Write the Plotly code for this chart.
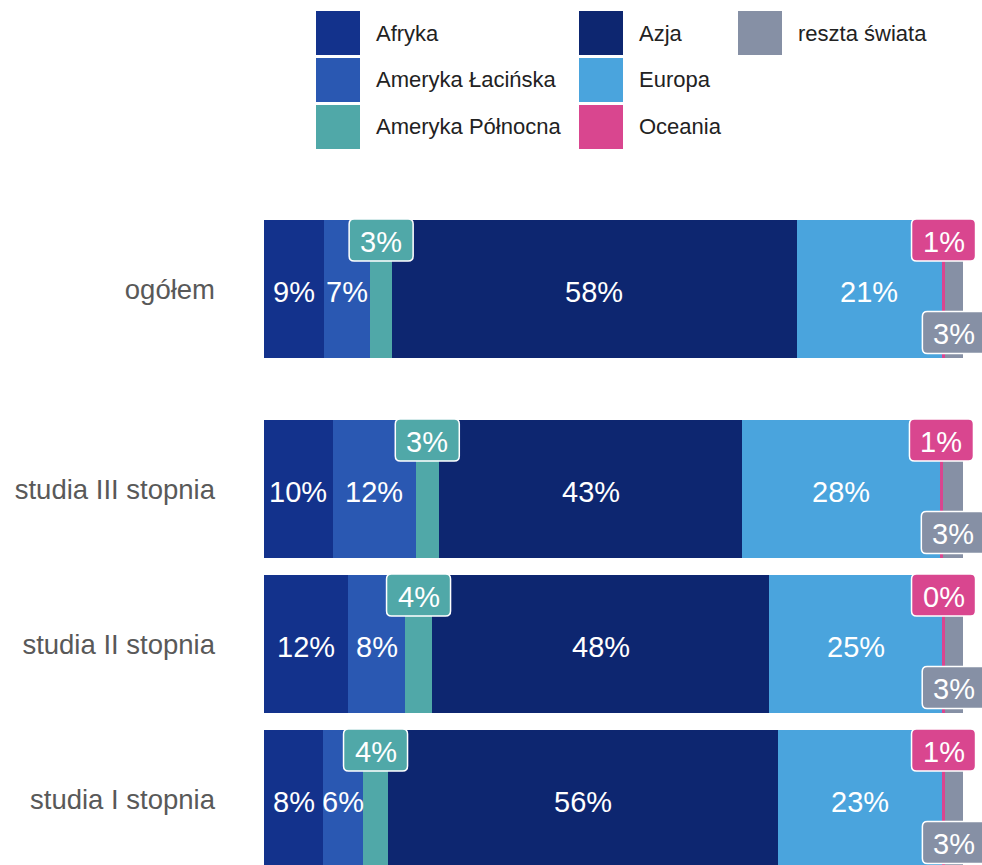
import plotly.graph_objects as go

# ---------------- data ----------------
categories = ["studia I stopnia", "studia II stopnia", "studia III stopnia", "ogółem"]
series_names = ["Afryka", "Ameryka Łacińska", "Ameryka Północna", "Azja",
                "Europa", "Oceania", "reszta świata"]
afryka = [8.45, 12.0, 9.8, 8.6]
ameryka_lacinska = [5.7, 8.2, 11.9, 6.6]
ameryka_polnocna = [3.6, 3.8, 3.3, 3.1]
azja = [55.75, 48.25, 43.4, 57.9]
europa = [23.4, 24.7, 28.2, 20.7]
oceania = [0.55, 0.45, 0.55, 0.55]
reszta_swiata = [2.55, 2.6, 2.85, 2.55]

series_values = [afryka, ameryka_lacinska, ameryka_polnocna, azja,
                 europa, oceania, reszta_swiata]

# ---------------- style ----------------
colors = ["#13328c", "#2a58b2", "#50a8a8", "#0d2670", "#4aa4dd", "#d9468f", "#8690a5"]
label_mode = [None, None, "top", None, None, "top", "bottom"]   # callout placement
y_positions = [0, 1, 2, 3.29]
bar_width = 0.89
FONT = "Liberation Sans, Arial, sans-serif"

W, H = 982, 865
ML = 264
plot_w = W - ML
px_per_pct = 699.3 / 100.0
x_max = plot_w / px_per_pct
px_per_unit = 155.0
half_bar_px = bar_width / 2.0 * px_per_unit

fig = go.Figure()
for name, vals, col in zip(series_names, series_values, colors):
    fig.add_trace(go.Bar(
        y=y_positions, x=vals, name=name, orientation="h",
        width=bar_width, marker=dict(color=col, line=dict(width=0)),
        hoverinfo="x+name", showlegend=False,
    ))

annotations = []
shapes = []
cum = [0.0] * len(categories)
for si, (vals, col, mode) in enumerate(zip(series_values, colors, label_mode)):
    for ci, v in enumerate(vals):
        xc = cum[ci] + v / 2.0
        yc = y_positions[ci]
        txt = f"{v:.0f}%"
        if mode is None:
            annotations.append(dict(
                x=xc, y=yc, xref="x", yref="y", text=txt,
                showarrow=False, yshift=-3,
                font=dict(family=FONT, size=29, color="white"),
            ))
        else:
            if mode == "top":
                cy = half_bar_px - 20
            else:
                cy = -half_bar_px + 25.5
            w2, h2, r = 32, 21, 5
            x0, x1, y0, y1 = -w2, w2, cy - h2, cy + h2
            path = (f"M {x0 + r},{y0} L {x1 - r},{y0} Q {x1},{y0} {x1},{y0 + r} "
                    f"L {x1},{y1 - r} Q {x1},{y1} {x1 - r},{y1} L {x0 + r},{y1} "
                    f"Q {x0},{y1} {x0},{y1 - r} L {x0},{y0 + r} Q {x0},{y0} {x0 + r},{y0} Z")
            shapes.append(dict(
                type="path", xref="x", yref="y", xsizemode="pixel", ysizemode="pixel",
                xanchor=xc, yanchor=yc, path=path, fillcolor=col,
                line=dict(color="white", width=1.5), layer="above",
            ))
            annotations.append(dict(
                x=xc, y=yc, xref="x", yref="y", text=txt, showarrow=False,
                yshift=cy - 2,
                font=dict(family=FONT, size=29, color="white"),
            ))
    cum = [c + v for c, v in zip(cum, vals)]

# ---------------- custom legend ----------------
def px_x(p):
    return (p - ML) / plot_w

def px_y(p):
    return 1 - p / H

col_swatch_x = [316, 579, 738]
col_text_x = [374, 637, 796]
row_top = [11, 58, 105]
sw = 44
for i, (name, col) in enumerate(zip(series_names, colors)):
    c, r = divmod(i, 3)
    sx, sy = col_swatch_x[c], row_top[r]
    shapes.append(dict(
        type="rect", xref="paper", yref="paper",
        x0=px_x(sx), x1=px_x(sx + sw), y0=px_y(sy + sw), y1=px_y(sy),
        fillcolor=col, line=dict(width=0),
    ))
    annotations.append(dict(
        x=px_x(col_text_x[c]), y=px_y(sy + sw / 2.0), xref="paper", yref="paper",
        text=name, showarrow=False, xanchor="left", yanchor="middle",
        font=dict(family=FONT, size=22, color="#222222"),
    ))

fig.update_layout(
    width=W, height=H, barmode="stack", bargap=0,
    margin=dict(l=ML, r=0, t=0, b=0, autoexpand=False),
    paper_bgcolor="white", plot_bgcolor="white",
    showlegend=False,
    xaxis=dict(range=[0, x_max], visible=False, fixedrange=True),
    yaxis=dict(
        range=[-(865 - 799) / px_per_unit, 3.29 + 289 / px_per_unit],
        tickvals=y_positions, ticktext=categories,
        showgrid=False, zeroline=False, showline=False, ticks="",
        ticklabelstandoff=48, automargin=False,
        tickfont=dict(family=FONT, size=27.5, color="#595959"),
        fixedrange=True,
    ),
    shapes=shapes, annotations=annotations,
)

fig.write_html("out.html", config={"displayModeBar": False},
               post_script="document.body.style.margin='0';document.body.style.overflow='hidden';")
